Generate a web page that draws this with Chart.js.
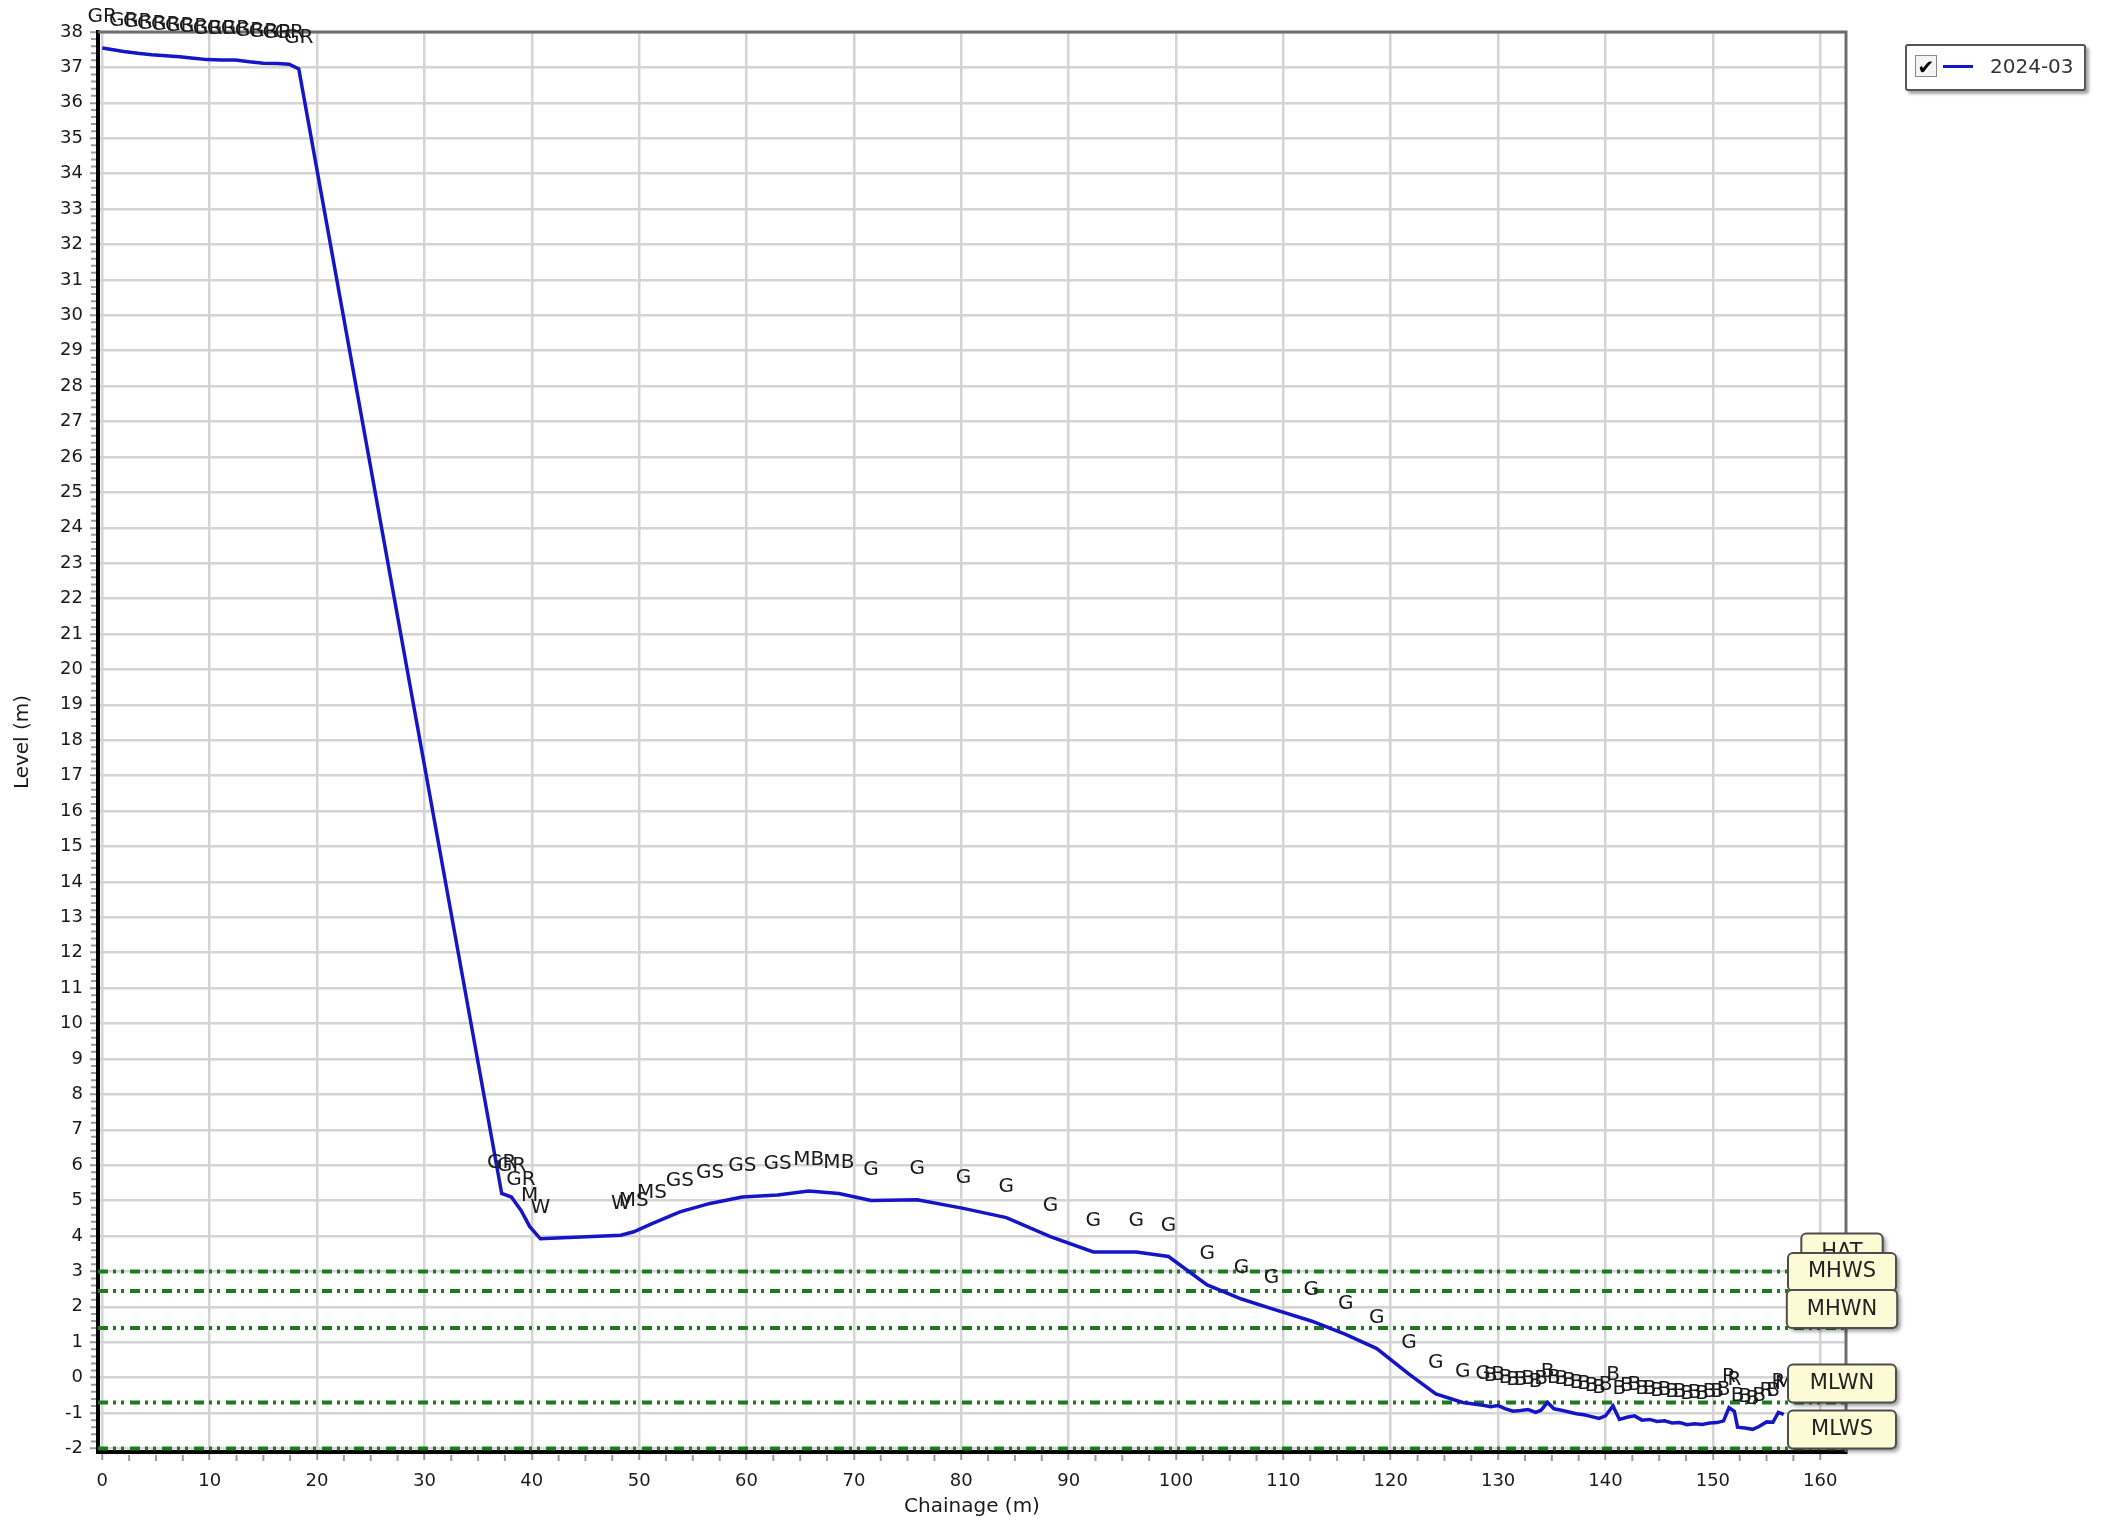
<!DOCTYPE html>
<html lang="en">
<head>
<meta charset="UTF-8">
<title>Beach Profile 2024-03</title>
<script src="https://cdn.jsdelivr.net/npm/chart.js"></script>
<style>
    body {
        margin: 0;
        background: #fff;
        font-family: "DejaVu Sans", sans-serif;
    }
    .wrap {
        position: relative;
        width: 2107px;
        height: 1523px;
    }
    #legend {
        position: absolute;
        left: 1905px;
        top: 44px;
        width: 177px;
        height: 43px;
        border: 2px solid #555;
        border-radius: 3px;
        background: #fff;
        box-shadow: 3px 3px 3px rgba(0, 0, 0, 0.35);
    }
    #legend .check {
        position: absolute;
        left: 8px;
        top: 9px;
        width: 20px;
        height: 20px;
        border: 1px solid #888;
        background: #f4f4f4;
        font-size: 20px;
        font-weight: bold;
        line-height: 22px;
        text-align: center;
        color: #000;
    }
    #legend .swatch {
        position: absolute;
        left: 36px;
        top: 19px;
        width: 30px;
        height: 3px;
        background: #1515c8;
    }
    #legend .name {
        position: absolute;
        left: 83px;
        top: 8px;
        font-size: 20px;
        line-height: 24px;
        color: #333;
    }
</style>
</head>
<body>
<div class="wrap">
    <canvas id="profileChart" width="2107" height="1523"></canvas>
    <div id="legend">
        <span class="check">✔</span>
        <span class="swatch"></span>
        <span class="name">2024-03</span>
    </div>
</div>

<script>
    // Survey 2024-03: chainage (m), level (m) and feature code of each point
    const chainage = [
        0.0, 2.0, 3.3, 4.6, 5.9, 7.2, 8.5, 9.8, 11.1, 12.4, 13.7, 15.0, 16.3, 17.4, 18.3,
        37.2, 38.1, 39.0, 39.8, 40.8,
        48.3, 49.5, 51.2, 53.8, 56.6, 59.6, 62.9, 65.8, 68.6,
        71.6, 75.9, 80.2, 84.2, 88.3, 92.3, 96.3, 99.3, 102.9, 106.1, 108.9, 112.6,
        115.8, 118.7, 121.7, 124.2, 126.7, 128.6,
        129.3, 130.0, 130.7, 131.4, 132.1, 132.8, 133.5, 134.0, 134.6, 135.2, 135.9,
        136.6, 137.3, 138.0, 138.7, 139.4, 140.0, 140.7, 141.3, 142.0, 142.7, 143.4,
        144.1, 144.8, 145.5, 146.2, 146.9, 147.6, 148.3, 149.0, 149.7, 150.4, 151.0,
        151.5, 152.0, 152.3, 153.0, 153.7, 154.3, 155.0, 155.6, 156.1, 156.6
    ];
    const level = [
        37.55, 37.45, 37.40, 37.36, 37.33, 37.30, 37.26, 37.22, 37.21, 37.21, 37.16, 37.12, 37.11, 37.09, 36.96,
        5.20, 5.10, 4.72, 4.27, 3.92,
        4.02, 4.12, 4.35, 4.68, 4.92, 5.10, 5.16, 5.27, 5.20,
        5.00, 5.02, 4.78, 4.52, 3.98, 3.55, 3.55, 3.42, 2.62, 2.22, 1.95, 1.60,
        1.22, 0.82, 0.10, -0.46, -0.70, -0.78,
        -0.82, -0.79, -0.88, -0.95, -0.93, -0.90, -0.98, -0.92, -0.70, -0.88, -0.92,
        -0.97, -1.02, -1.05, -1.10, -1.15, -1.08, -0.80, -1.18, -1.12, -1.08, -1.20,
        -1.18, -1.24, -1.22, -1.28, -1.27, -1.33, -1.30, -1.32, -1.28, -1.27, -1.22,
        -0.85, -0.95, -1.40, -1.42, -1.46, -1.38, -1.25, -1.26, -0.98, -1.04
    ];
    const codes = [
        'GR', 'GR', 'GR', 'GR', 'GR', 'GR', 'GR', 'GR', 'GR', 'GR', 'GR', 'GR', 'GR', 'GR', 'GR',
        'GR', 'GR', 'GR', 'M', 'W',
        'W', 'MS', 'MS', 'GS', 'GS', 'GS', 'GS', 'MB', 'MB',
        'G', 'G', 'G', 'G', 'G', 'G', 'G', 'G', 'G', 'G', 'G', 'G',
        'G', 'G', 'G', 'G', 'G', 'G',
        'B', 'B', 'B', 'B', 'B', 'B', 'B', 'B', 'B', 'B', 'B',
        'B', 'B', 'B', 'B', 'B', 'B', 'B', 'B', 'B', 'B', 'B',
        'B', 'B', 'B', 'B', 'B', 'B', 'B', 'B', 'B', 'B', 'B',
        'R', 'R', 'B', 'B', 'B', 'B', 'R', 'B', 'R', 'M'
    ];

    // Tidal levels (m)
    const tideNames = ['HAT', 'MHWS', 'MHWN', 'MLWN', 'MLWS'];
    const tideLevels = [3.0, 2.45, 1.4, -0.7, -2.0];

    // Axis ranges and tick values
    const xRange = [-0.4, 162.4];
    const yRange = [-2.1, 38];
    const xTicks = [0, 10, 20, 30, 40, 50, 60, 70, 80, 90, 100, 110, 120, 130, 140, 150, 160];
    const yTicks = [];
    for (let v = -2; v <= 38; v++) yTicks.push(v);

    const FONT = '"DejaVu Sans", sans-serif';
    Chart.defaults.font.family = FONT;
    Chart.defaults.color = '#1a1a1a';

    const profile = chainage.map((c, i) => ({ x: c, y: level[i] }));

    const tideSets = tideLevels.map((v, i) => ({
        label: tideNames[i],
        data: [{ x: xRange[0], y: v }, { x: xRange[1], y: v }],
        borderColor: '#1f7a1f',
        borderWidth: 4,
        borderDash: [10, 5, 3, 5, 3, 6],
        pointRadius: 0,
        fill: false
    }));

    // small minor ticks plus the grey top/right frame
    const frame = {
        id: 'frame',
        afterDatasetsDraw(chart) {
            const { ctx, chartArea: a, scales: { x, y } } = chart;
            ctx.save();
            ctx.strokeStyle = '#9a9a9a';
            ctx.lineWidth = 2;
            ctx.beginPath();
            for (let v = 2.5; v < xRange[1]; v += 2.5) {
                if (v % 10 === 0) continue;
                const px = x.getPixelForValue(v);
                ctx.moveTo(px, a.bottom + 3);
                ctx.lineTo(px, a.bottom + 9);
            }
            for (let k = -10; k <= 190; k++) {
                if (k % 5 === 0) continue;
                const py = y.getPixelForValue(k / 5);
                ctx.moveTo(a.left - 7, py);
                ctx.lineTo(a.left - 2, py);
            }
            ctx.stroke();

            ctx.strokeStyle = '#6e6e6e';
            ctx.lineWidth = 3;
            ctx.beginPath();
            ctx.moveTo(a.left, a.top);
            ctx.lineTo(a.right, a.top);
            ctx.lineTo(a.right, a.bottom);
            ctx.stroke();
            ctx.restore();
        }
    };

    // feature codes written above each survey point
    const codeLabels = {
        id: 'codeLabels',
        afterDatasetsDraw(chart) {
            const { ctx, scales: { x, y } } = chart;
            ctx.save();
            ctx.font = '20px ' + FONT;
            ctx.fillStyle = '#1a1a1a';
            ctx.textAlign = 'center';
            ctx.textBaseline = 'middle';
            chainage.forEach((c, i) => {
                if (!codes[i]) return;
                ctx.fillText(codes[i], x.getPixelForValue(c), y.getPixelForValue(level[i]) - 31);
            });
            ctx.restore();
        }
    };

    // tide name tags sitting on the right end of each tide line
    const tideTags = {
        id: 'tideTags',
        afterDraw(chart) {
            const { ctx, chartArea: a, scales: { y } } = chart;
            ctx.save();
            ctx.font = '21px ' + FONT;
            ctx.textAlign = 'center';
            ctx.textBaseline = 'middle';
            tideLevels.forEach((v, i) => {
                const bottom = y.getPixelForValue(v);
                const h = 38;
                const w = Math.max(ctx.measureText(tideNames[i]).width + 40, tideNames[i].length > 3 ? 108 : 0);
                const cx = a.right - 4;
                ctx.save();
                ctx.shadowColor = 'rgba(0, 0, 0, 0.45)';
                ctx.shadowBlur = 4;
                ctx.shadowOffsetX = 3;
                ctx.shadowOffsetY = 3;
                ctx.beginPath();
                ctx.roundRect(cx - w / 2, bottom - h, w, h, 5);
                ctx.fillStyle = '#fdfbd6';
                ctx.fill();
                ctx.restore();
                ctx.strokeStyle = '#4d4d4d';
                ctx.lineWidth = 2;
                ctx.beginPath();
                ctx.roundRect(cx - w / 2, bottom - h, w, h, 5);
                ctx.stroke();
                ctx.fillStyle = '#222';
                ctx.fillText(tideNames[i], cx, bottom - h / 2);
            });
            ctx.restore();
        }
    };

    new Chart(document.getElementById('profileChart'), {
        type: 'line',
        data: {
            datasets: [
                {
                    label: '2024-03',
                    data: profile,
                    borderColor: '#1515c8',
                    borderWidth: 3.5,
                    pointRadius: 0,
                    tension: 0,
                    fill: false
                },
                ...tideSets
            ]
        },
        options: {
            responsive: false,
            animation: false,
            devicePixelRatio: 1,
            layout: { padding: { top: 32, right: 261, bottom: 0, left: 7 } },
            plugins: {
                legend: { display: false },
                tooltip: { enabled: false }
            },
            scales: {
                x: {
                    type: 'linear',
                    min: xRange[0],
                    max: xRange[1],
                    afterBuildTicks: s => { s.ticks = xTicks.map(v => ({ value: v })); },
                    afterFit: s => { s.height = 71; },
                    ticks: { font: { size: 18 }, padding: 11, color: '#1a1a1a' },
                    grid: { color: '#d4d4d4', lineWidth: 2.5, tickLength: 8, tickColor: '#9a9a9a', tickWidth: 2 },
                    border: { display: true, color: '#000', width: 4 },
                    title: { display: true, text: 'Chainage (m)', font: { size: 20 }, color: '#1a1a1a' }
                },
                y: {
                    type: 'linear',
                    min: yRange[0],
                    max: yRange[1],
                    afterBuildTicks: s => { s.ticks = yTicks.map(v => ({ value: v })); },
                    afterFit: s => { s.width = 91; },
                    ticks: { font: { size: 18 }, padding: 7, color: '#1a1a1a' },
                    grid: { color: '#d4d4d4', lineWidth: 2.5, tickLength: 8, tickColor: '#9a9a9a', tickWidth: 2 },
                    border: { display: true, color: '#000', width: 4 },
                    title: { display: true, text: 'Level (m)', font: { size: 20 }, color: '#1a1a1a' }
                }
            }
        },
        plugins: [frame, codeLabels, tideTags]
    });
</script>
</body>
</html>
